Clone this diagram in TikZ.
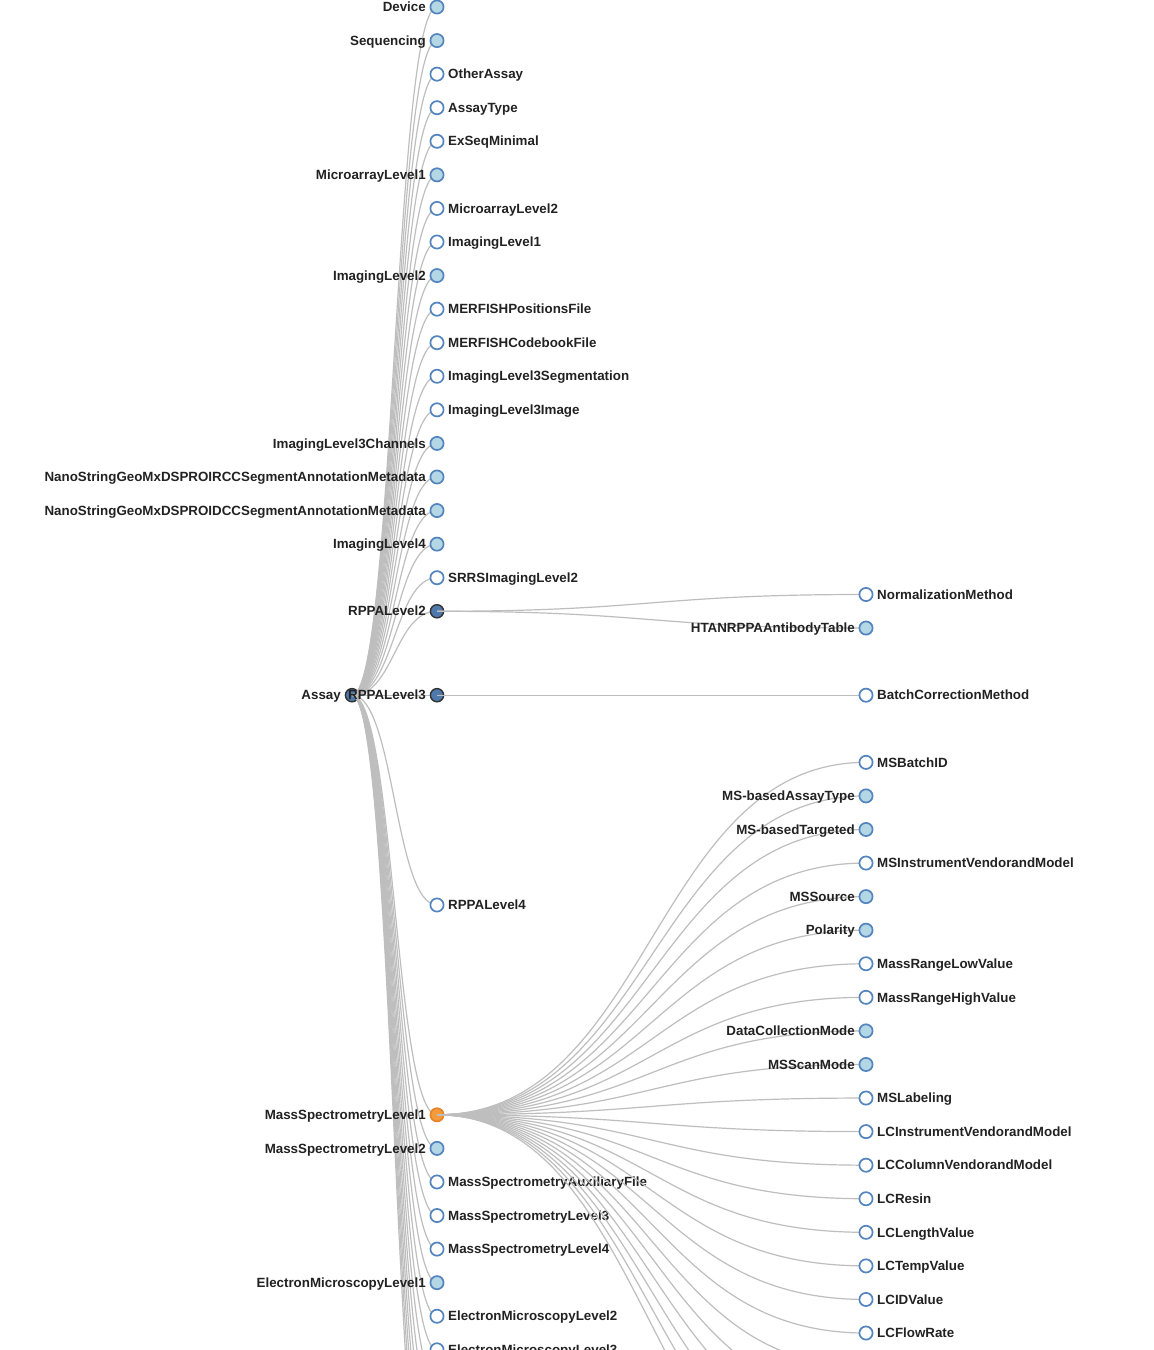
\documentclass[tikz,border=0pt]{standalone}
\usepackage{fontspec}
\setmainfont{Liberation Sans}
\usetikzlibrary{calc}
\definecolor{nodestroke}{HTML}{5384BD}
\definecolor{nodefill}{HTML}{B3D7E5}
\definecolor{openfill}{HTML}{4F79AD}
\definecolor{openstroke}{HTML}{333333}
\definecolor{selfill}{HTML}{F39A3A}
\definecolor{selstroke}{HTML}{E8832A}
\definecolor{linkc}{HTML}{BEBEBE}
\definecolor{labelc}{HTML}{222222}
\pgfdeclarelayer{linksA}
\pgfdeclarelayer{nodesA}
\pgfdeclarelayer{linksB}
\pgfdeclarelayer{nodesB}
\pgfsetlayers{main,linksA,nodesA,linksB,nodesB}
\tikzset{
  dot/.style={circle, minimum size=13.2pt, inner sep=0pt, line width=1.7pt, draw=nodestroke},
  leaf/.style={dot, fill=white},
  coll/.style={dot, fill=nodefill},
  opened/.style={dot, fill=openfill, draw=openstroke, line width=1.4pt},
  sel/.style={dot, fill=selfill, draw=selstroke},
  lbl/.style={font=\bfseries\fontsize{13.35}{15}\selectfont, text=labelc, inner sep=0pt},
  link/.style={draw=linkc, line width=1.2pt},
}
% node with label on the right
\newcommand\ndR[5]{\node[#4] (#1) at (#2,#3) {};
  \node[lbl, anchor=base west] (#1-t) at ([shift={(11,4.7)}]#1.center) {#5};}
% node with label on the left
\newcommand\ndL[5]{\node[#4] (#1) at (#2,#3) {};
  \node[lbl, anchor=base east] (#1-t) at ([shift={(-11,4.7)}]#1.center) {#5};}
% tree link
\newcommand\lnk[2]{\draw[link] let \p1=(#1.center), \p2=(#2.center) in
  (\p1) .. controls ({0.5*\x1+0.5*\x2},\y1) and ({0.5*\x1+0.5*\x2},\y2) .. (\p2);}
\begin{document}
\begin{tikzpicture}[x=1pt, y=-1pt]
\useasboundingbox (0,0) rectangle (1154,1350);
\fill[white] (0,0) rectangle (1154,1350);

% depth 0
\ndL{assay}{352}{695.19}{opened}{Assay}

% depth 1
\begin{pgfonlayer}{nodesA}
\clip (0,0) rectangle (1154,1350);
\ndL{device}{437}{7}{coll}{Device}
\ndL{sequencing}{437}{40.57}{coll}{Sequencing}
\ndR{otherassay}{437}{74.14}{leaf}{OtherAssay}
\ndR{assaytype}{437}{107.71}{leaf}{AssayType}
\ndR{exseq}{437}{141.28}{leaf}{ExSeqMinimal}
\ndL{micro1}{437}{174.85}{coll}{MicroarrayLevel1}
\ndR{micro2}{437}{208.42}{leaf}{MicroarrayLevel2}
\ndR{img1}{437}{241.99}{leaf}{ImagingLevel1}
\ndL{img2}{437}{275.56}{coll}{ImagingLevel2}
\ndR{merpos}{437}{309.13}{leaf}{MERFISHPositionsFile}
\ndR{mercode}{437}{342.7}{leaf}{MERFISHCodebookFile}
\ndR{imgseg}{437}{376.27}{leaf}{ImagingLevel3Segmentation}
\ndR{imgimg}{437}{409.84}{leaf}{ImagingLevel3Image}
\ndL{imgch}{437}{443.41}{coll}{ImagingLevel3Channels}
\ndL{nanorcc}{437}{476.98}{coll}{NanoStringGeoMxDSPROIRCCSegmentAnnotationMetadata}
\ndL{nanodcc}{437}{510.55}{coll}{NanoStringGeoMxDSPROIDCCSegmentAnnotationMetadata}
\ndL{img4}{437}{544.12}{coll}{ImagingLevel4}
\ndR{srrs}{437}{577.69}{leaf}{SRRSImagingLevel2}
\ndL{rppa2}{437}{611.26}{opened}{RPPALevel2}
\ndL{rppa3}{437}{695.19}{opened}{RPPALevel3}
\ndR{rppa4}{437}{904.98}{leaf}{RPPALevel4}
\ndL{ms1}{437}{1114.81}{sel}{MassSpectrometryLevel1}
\ndL{ms2}{437}{1148.38}{coll}{MassSpectrometryLevel2}
\ndR{msaux}{437}{1181.95}{leaf}{MassSpectrometryAuxiliaryFile}
\ndR{ms3}{437}{1215.52}{leaf}{MassSpectrometryLevel3}
\ndR{ms4}{437}{1249.09}{leaf}{MassSpectrometryLevel4}
\ndL{em1}{437}{1282.66}{coll}{ElectronMicroscopyLevel1}
\ndR{em2}{437}{1316.23}{leaf}{ElectronMicroscopyLevel2}
\ndR{em3}{437}{1349.8}{leaf}{ElectronMicroscopyLevel3}
\end{pgfonlayer}
% further children of Assay below the visible area
\coordinate (ax1) at (437,1383.37);
\coordinate (ax2) at (437,1416.94);
\coordinate (ax3) at (437,1450.51);
\coordinate (ax4) at (437,1484.08);
\coordinate (ax5) at (437,1517.65);
\coordinate (ax6) at (437,1551.22);
\coordinate (ax7) at (437,1584.79);

% depth 2
\begin{pgfonlayer}{nodesB}
\clip (0,0) rectangle (1154,1350);
\ndR{normmeth}{866}{594.48}{leaf}{NormalizationMethod}
\ndL{antibody}{866}{628.05}{coll}{HTANRPPAAntibodyTable}
\ndR{batchcorr}{866}{695.19}{leaf}{BatchCorrectionMethod}
\ndR{msbatch}{866}{762.33}{leaf}{MSBatchID}
\ndL{msassaytype}{866}{795.9}{coll}{MS-basedAssayType}
\ndL{mstargeted}{866}{829.47}{coll}{MS-basedTargeted}
\ndR{msinstr}{866}{863.04}{leaf}{MSInstrumentVendorandModel}
\ndL{mssource}{866}{896.61}{coll}{MSSource}
\ndL{polarity}{866}{930.18}{coll}{Polarity}
\ndR{mrlow}{866}{963.75}{leaf}{MassRangeLowValue}
\ndR{mrhigh}{866}{997.32}{leaf}{MassRangeHighValue}
\ndL{dcmode}{866}{1030.89}{coll}{DataCollectionMode}
\ndL{scanmode}{866}{1064.46}{coll}{MSScanMode}
\ndR{mslabel}{866}{1098.03}{leaf}{MSLabeling}
\ndR{lcinstr}{866}{1131.6}{leaf}{LCInstrumentVendorandModel}
\ndR{lccol}{866}{1165.17}{leaf}{LCColumnVendorandModel}
\ndR{lcresin}{866}{1198.74}{leaf}{LCResin}
\ndR{lclen}{866}{1232.31}{leaf}{LCLengthValue}
\ndR{lctemp}{866}{1265.88}{leaf}{LCTempValue}
\ndR{lcid}{866}{1299.45}{leaf}{LCIDValue}
\ndR{lcflow}{866}{1333.02}{leaf}{LCFlowRate}
\end{pgfonlayer}
% further children of MassSpectrometryLevel1 below the visible area
\coordinate (mx1) at (866,1366.59);
\coordinate (mx2) at (866,1400.16);
\coordinate (mx3) at (866,1433.73);
\coordinate (mx4) at (866,1467.3);
\coordinate (mx5) at (866,1500.87);
\coordinate (mx6) at (866,1534.44);

% links from Assay
\begin{pgfonlayer}{linksA}
\clip (0,0) rectangle (1154,1350);
\foreach \c in {device,sequencing,otherassay,assaytype,exseq,micro1,micro2,img1,img2,
  merpos,mercode,imgseg,imgimg,imgch,nanorcc,nanodcc,img4,srrs,rppa2,rppa3,rppa4,
  ms1,ms2,msaux,ms3,ms4,em1,em2,em3,ax1,ax2,ax3,ax4,ax5,ax6,ax7}{\lnk{assay}{\c}}
\end{pgfonlayer}

% links from depth 1
\begin{pgfonlayer}{linksB}
\clip (0,0) rectangle (1154,1350);
\lnk{rppa2}{normmeth}
\lnk{rppa2}{antibody}
\lnk{rppa3}{batchcorr}
\foreach \c in {msbatch,msassaytype,mstargeted,msinstr,mssource,polarity,mrlow,mrhigh,
  dcmode,scanmode,mslabel,lcinstr,lccol,lcresin,lclen,lctemp,lcid,lcflow,
  mx1,mx2,mx3,mx4,mx5,mx6}{\lnk{ms1}{\c}}
\end{pgfonlayer}
\end{tikzpicture}
\end{document}
